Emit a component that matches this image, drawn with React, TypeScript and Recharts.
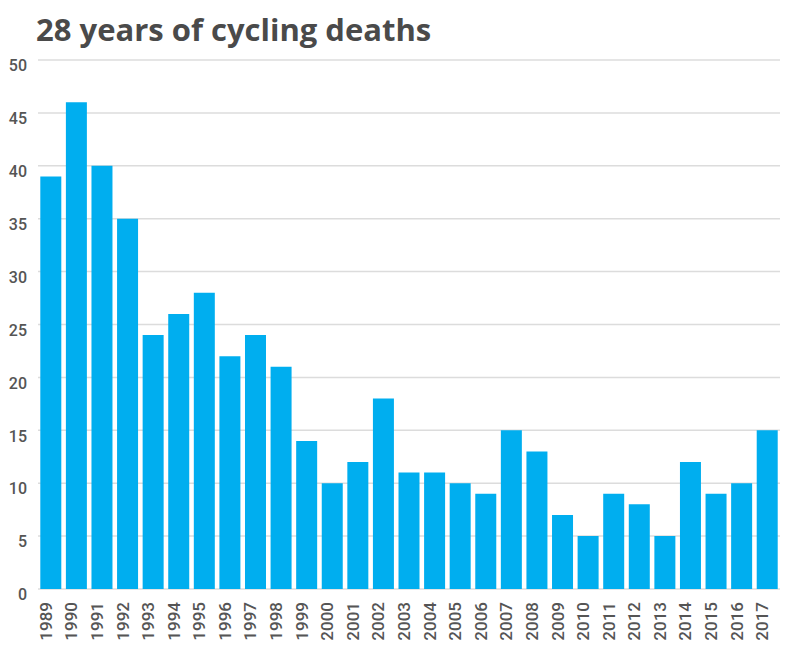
import React from "react";
import { BarChart, Bar, XAxis, YAxis, CartesianGrid } from "recharts";

const years = [
  "1989", "1990", "1991", "1992", "1993", "1994", "1995", "1996", "1997", "1998",
  "1999", "2000", "2001", "2002", "2003", "2004", "2005", "2006", "2007", "2008",
  "2009", "2010", "2011", "2012", "2013", "2014", "2015", "2016", "2017",
];
const deaths = [
  39, 46, 40, 35, 24, 26, 28, 22, 24, 21,
  14, 10, 12, 18, 11, 11, 10, 9, 15, 13,
  7, 5, 9, 8, 5, 12, 9, 10, 15,
];
const yTicks = [0, 5, 10, 15, 20, 25, 30, 35, 40, 45, 50];

const data = years.map((y, i) => ({ year: y, deaths: deaths[i] }));

const tickFont = "Roboto, 'DejaVu Sans', sans-serif";

const YTick = (props: any) => {
  const { y, payload } = props;
  return (
    <text x={27} y={y} dy={7} textAnchor="end" dominantBaseline="middle" fill="#555" fontSize={16} fontWeight={500} fontFamily={tickFont}>
      {payload.value}
    </text>
  );
};

const XTick = (props: any) => {
  const { x, payload } = props;
  return (
    <text
      x={0}
      y={0}
      dy={1}
      transform={`translate(${x},${602}) rotate(-90)`}
      textAnchor="end"
      fill="#555"
      fontSize={17}
      fontWeight={500}
      fontFamily={tickFont}
    >
      {payload.value}
    </text>
  );
};

export default function App() {
  return (
    <div style={{ position: "absolute", left: 0, top: 0, width: 800, height: 667, background: "#fff" }}>
      <div
        style={{
          position: "absolute",
          left: 36,
          top: 9,
          fontFamily: "'Open Sans', sans-serif",
          fontWeight: 700,
          fontSize: 31,
          lineHeight: "40px",
          color: "#4a4a4a",
          whiteSpace: "nowrap",
        }}
      >
        28 years of cycling deaths
      </div>
      <BarChart
        width={800}
        height={667}
        data={data}
        margin={{ top: 60, right: 20, left: 0, bottom: 0 }}
        barCategoryGap="9%"
      >
        <CartesianGrid vertical={false} stroke="#dcdcdc" strokeWidth={1.5} />
        <XAxis
          dataKey="year"
          axisLine={false}
          tickLine={false}
          height={78}
          interval={0}
          tick={<XTick />}
        />
        <YAxis
          domain={[0, 50]}
          ticks={yTicks}
          width={38}
          axisLine={false}
          tickLine={false}
          tick={<YTick />}
        />
        <Bar dataKey="deaths" fill="#00AEEF" isAnimationActive={false} />
      </BarChart>
    </div>
  );
}
